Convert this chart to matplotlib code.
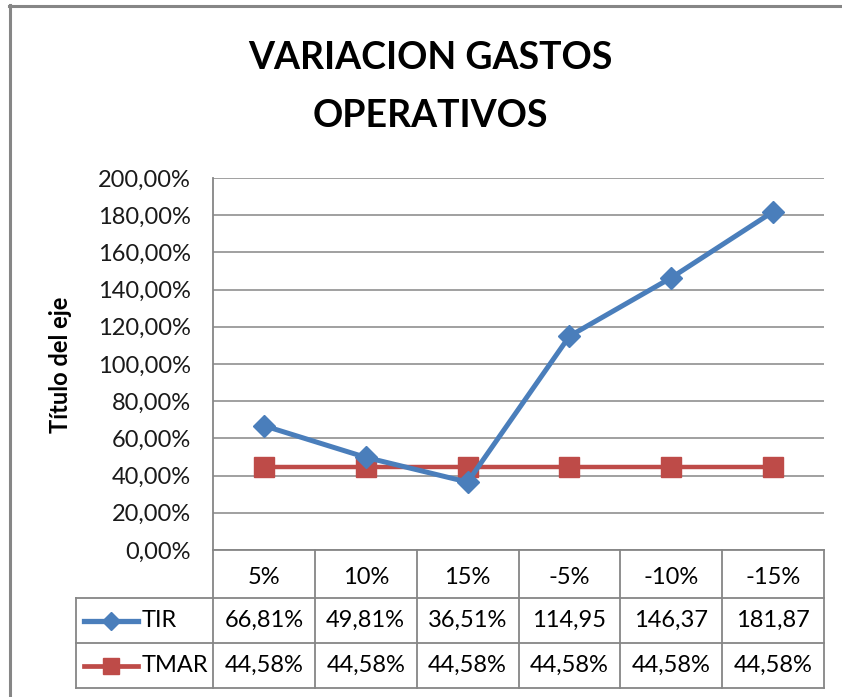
import numpy as np
from matplotlib import pyplot as plt
from matplotlib.lines import Line2D
from matplotlib.ticker import FuncFormatter, MultipleLocator

# Escenarios de variacion de gastos operativos
categorias = ['5%', '10%', '15%', '-5%', '-10%', '-15%']
tir = [66.81, 49.81, 36.51, 114.95, 146.37, 181.87]
tmar = [44.58, 44.58, 44.58, 44.58, 44.58, 44.58]
series = ['TIR', 'TMAR']

W, H = 842, 697
BLUE = '#4A7EBB'
RED = '#BE4B48'
GRAY = '#868686'
FONT = 'Lato'
FS = 17

plt.rcParams['font.family'] = FONT


def fx(px):
    return px / W


def fy(py):
    return 1 - py / H


def pct(v, pos=None):
    return f'{v:.2f}'.replace('.', ',') + '%'


def cell_text(v):
    # celdas angostas: los valores de tres cifras pierden el signo %
    s = pct(v)
    return s[:-1] if v >= 100 else s


fig = plt.figure(figsize=(W / 100, H / 100), dpi=100)

# marco exterior del grafico
fig.add_artist(Line2D([fx(10), fx(10)], [fy(5), 0], color=GRAY, lw=2.2))
fig.add_artist(Line2D([fx(9), 1], [fy(6), fy(6)], color=GRAY, lw=2.2))

x0, x1 = 213, 824
y_top, y_axis = 178, 550
ax = fig.add_axes([fx(x0), fy(y_axis), fx(x1) - fx(x0), fy(y_top) - fy(y_axis)])

x = np.arange(len(categorias)) + 0.5
ax.plot(x, tmar, color=RED, lw=3.2, marker='s', ms=14, mec=RED, zorder=3)
ax.plot(x, tir, color=BLUE, lw=3.6, marker='D', ms=11, mec=BLUE, zorder=4)

ax.set_xlim(0, len(categorias))
ax.set_ylim(0, 200)
ax.yaxis.set_major_locator(MultipleLocator(20))
ax.yaxis.set_major_formatter(FuncFormatter(pct))
ax.grid(axis='y', color=GRAY, lw=1.1)
ax.set_axisbelow(True)
ax.set_xticks([])
ax.tick_params(axis='y', length=0, pad=16, labelsize=FS, labelcolor='#1a1a1a')
for side in ['top', 'right', 'bottom']:
    ax.spines[side].set_visible(False)
ax.spines['left'].set_color(GRAY)
ax.spines['left'].set_linewidth(1.3)

fig.text(fx(61), fy(365), 'Título del eje', rotation=90, ha='center', va='center',
         fontsize=17, fontweight='bold')

fig.text(fx(430), fy(58), 'VARIACION GASTOS', ha='center', va='center',
         fontsize=27, fontweight='bold')
fig.text(fx(430), fy(116), 'OPERATIVOS', ha='center', va='center',
         fontsize=27, fontweight='bold')

# tabla de datos bajo el eje
rows = [550, 598, 643, 688]
leg_left = 76
col_w = (x1 - x0) / len(categorias)
cols = [x0 + i * col_w for i in range(len(categorias) + 1)]

def hline(py, xa, xb):
    fig.add_artist(Line2D([fx(xa), fx(xb)], [fy(py), fy(py)], color=GRAY, lw=1.3))

def vline(px, ya, yb):
    fig.add_artist(Line2D([fx(px), fx(px)], [fy(ya), fy(yb)], color=GRAY, lw=1.3))

hline(rows[0], x0, x1)
for r in rows[1:]:
    hline(r, leg_left, x1)
for c in cols:
    vline(c, rows[0], rows[3])
vline(leg_left, rows[1], rows[3])

for i, cat in enumerate(categorias):
    cx = (cols[i] + cols[i + 1]) / 2
    fig.text(fx(cx), fy((rows[0] + rows[1]) / 2 + 3), cat, ha='center', va='center', fontsize=FS)
    fig.text(fx(cx), fy((rows[1] + rows[2]) / 2), cell_text(tir[i]), ha='center', va='center', fontsize=FS)
    fig.text(fx(cx), fy((rows[2] + rows[3]) / 2), cell_text(tmar[i]), ha='center', va='center', fontsize=FS)

# claves de la leyenda dentro de la tabla
keys = [(BLUE, 'D', 9, 3.8), (RED, 's', 12, 3.4)]
for k, (name, (col, mk, ms, lw)) in enumerate(zip(series, keys)):
    cy = (rows[k + 1] + rows[k + 2]) / 2
    fig.add_artist(Line2D([fx(84), fx(138)], [fy(cy), fy(cy)], color=col, lw=lw))
    fig.add_artist(Line2D([fx(111)], [fy(cy)], color=col, marker=mk, ms=ms, mec=col))
    fig.text(fx(142), fy(cy), name, ha='left', va='center', fontsize=FS)

fig.savefig('out.png', dpi=100)
